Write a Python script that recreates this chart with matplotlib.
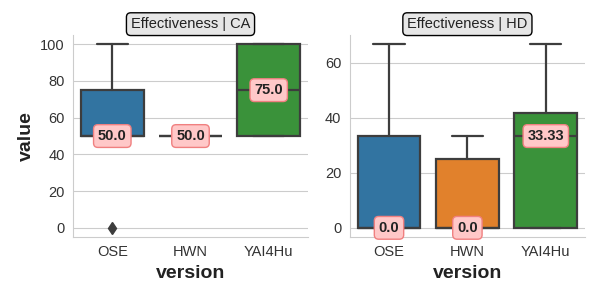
import numpy as np
import matplotlib
matplotlib.use("Agg")
import matplotlib.pyplot as plt
import seaborn as sns

sns.set_style("whitegrid")
plt.rcParams['font.family'] = ['Liberation Sans', 'DejaVu Sans']

versions = ["OSE", "HWN", "YAI4Hu"]
colors = ["#3274a1", "#e1812c", "#3a923a"]

# box stats per panel: whislo, q1, med, q3, whishi
ca_whislo = [50, 50, 50]
ca_q1 = [50, 50, 50]
ca_med = [50, 50, 75]
ca_q3 = [75, 50, 100]
ca_whishi = [100, 50, 100]
ca_fliers = [[0], [], []]

hd_whislo = [0, 0, 0]
hd_q1 = [0, 0, 0]
hd_med = [0, 0, 33.33]
hd_q3 = [33.33, 25, 41.67]
hd_whishi = [66.67, 33.33, 66.67]
hd_fliers = [[], [], []]

panels = [
    ("Effectiveness | CA", ca_whislo, ca_q1, ca_med, ca_q3, ca_whishi, ca_fliers, (-5, 105), [0, 20, 40, 60, 80, 100]),
    ("Effectiveness | HD", hd_whislo, hd_q1, hd_med, hd_q3, hd_whishi, hd_fliers, (-3.33, 70), [0, 20, 40, 60]),
]

fig = plt.figure(figsize=(6, 3), dpi=100)
axes = [fig.add_axes([0.122, 0.21, 0.391, 0.673]),
        fig.add_axes([0.583, 0.21, 0.392, 0.673])]

line_c = "#3d3d3d"
for ax, (title, wlo, q1, med, q3, whi, fl, ylim, yt) in zip(axes, panels):
    stats = []
    for i in range(len(versions)):
        stats.append(dict(whislo=wlo[i], q1=q1[i], med=med[i], q3=q3[i],
                          whishi=whi[i], fliers=fl[i], label=versions[i]))
    bp = ax.bxp(stats, positions=range(len(versions)), widths=0.8,
                patch_artist=True, showfliers=True,
                boxprops=dict(edgecolor=line_c, linewidth=1.6),
                medianprops=dict(color=line_c, linewidth=1.6),
                whiskerprops=dict(color=line_c, linewidth=1.6),
                capprops=dict(color=line_c, linewidth=1.6),
                flierprops=dict(marker='d', markerfacecolor=line_c,
                                markeredgecolor=line_c, markersize=6))
    for patch, c in zip(bp['boxes'], colors):
        patch.set_facecolor(c)
    # caps as wide as half the box
    for cap in bp['caps']:
        x = cap.get_xdata()
        cx = (x[0] + x[1]) / 2
        cap.set_xdata([cx - 0.2, cx + 0.2])
    for i, m in enumerate(med):
        lab = f"{m:.2f}".rstrip('0')
        if lab.endswith('.'):
            lab += '0'
        ax.text(i, m, lab, ha='center', va='center', fontsize=10.5,
                fontweight='bold', color='#222222',
                bbox=dict(boxstyle='round,pad=0.3', facecolor='#ffc8c8',
                          edgecolor='#f08080', linewidth=1), zorder=5)
    ax.set_xlim(-0.5, 2.5)
    ax.set_ylim(*ylim)
    ax.set_yticks(yt)
    ax.set_xticks(range(len(versions)))
    ax.set_xticklabels(versions)
    ax.tick_params(labelsize=10.5, colors='#333333', length=0, pad=6)
    ax.grid(axis='x', visible=False)
    ax.grid(axis='y', color='#cccccc', linewidth=0.8)
    ax.set_axisbelow(True)
    for s in ['top', 'right']:
        ax.spines[s].set_visible(False)
    for s in ['left', 'bottom']:
        ax.spines[s].set_color('#cccccc')
    ax.set_xlabel("version", fontsize=14, fontweight='bold', color='#222222')
    ax.set_title(title, fontsize=10.5, color='#222222', pad=5,
                 bbox=dict(boxstyle='round,pad=0.3', facecolor='#e6e6e6',
                           edgecolor='black', linewidth=1))

axes[0].set_ylabel("value", fontsize=14, fontweight='bold', color='#222222')

fig.savefig("out.png", dpi=100)
